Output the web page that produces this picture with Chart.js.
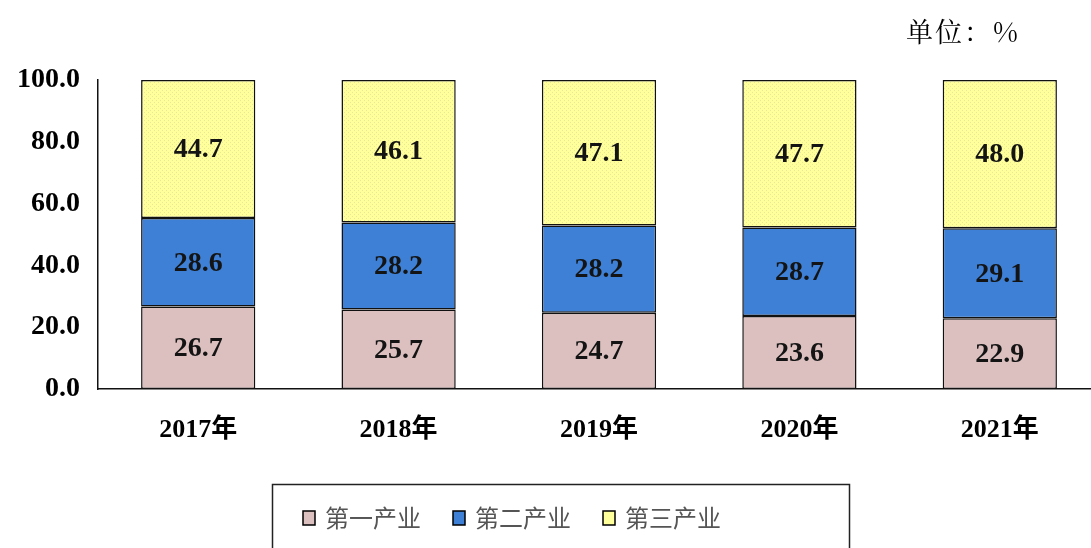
<!DOCTYPE html>
<html>
<head>
<meta charset="utf-8">
<script src="https://cdn.jsdelivr.net/npm/chart.js@4.4.1/dist/chart.umd.min.js"></script>
<style>
  html, body { margin: 0; padding: 0; background: #fff; overflow: hidden; }
  #wrap { position: relative; width: 1091px; height: 548px; overflow: hidden; }
  #box { position: absolute; left: 0; top: 0; width: 1100px; height: 548px; }
  #unit { position: absolute; left: 906px; top: 11px; font: 27px "Noto Serif CJK SC", "Noto Sans CJK SC", serif; letter-spacing: 2px; color: #000; }
</style>
</head>
<body>
<div id="wrap">
  <div id="box"><canvas id="industryChart"></canvas></div>
  <div id="unit">单位：%</div>
</div>
<script>
const years = ['2017年', '2018年', '2019年', '2020年', '2021年'];
const primary = [26.7, 25.7, 24.7, 23.6, 22.9];
const secondary = [28.6, 28.2, 28.2, 28.7, 29.1];
const tertiary = [44.7, 46.1, 47.1, 47.7, 48.0];
const seriesNames = ['第一产业', '第二产业', '第三产业'];
const yTicks = [0, 20, 40, 60, 80, 100];

// light dotted yellow fill like the original
function dotPattern() {
    const c = document.createElement('canvas');
    c.width = 4; c.height = 4;
    const g = c.getContext('2d');
    g.fillStyle = '#ffff9c';
    g.fillRect(0, 0, 4, 4);
    g.fillStyle = '#e8e896';
    g.fillRect(0, 0, 1, 1);
    g.fillRect(2, 2, 1, 1);
    return g.createPattern(c, 'repeat');
}

const serifBold = '"Liberation Serif", "Noto Sans CJK SC", serif';

const valueLabels = {
    id: 'valueLabels',
    afterDatasetsDraw(chart) {
        const ctx = chart.ctx;
        ctx.save();
        ctx.font = 'bold 28px ' + serifBold;
        ctx.fillStyle = '#141414';
        ctx.textAlign = 'center';
        ctx.textBaseline = 'middle';
        chart.data.datasets.forEach((ds, i) => {
            chart.getDatasetMeta(i).data.forEach((bar, j) => {
                const p = bar.getProps(['x', 'y', 'base'], true);
                ctx.fillText(ds.data[j].toFixed(1), p.x, (p.y + p.base) / 2 + 1);
            });
        });
        ctx.restore();
    }
};

// framed legend under the axis
const frameLegend = {
    id: 'frameLegend',
    afterDraw(chart) {
        const ctx = chart.ctx;
        ctx.save();
        ctx.strokeStyle = '#222';
        ctx.lineWidth = 1.5;
        ctx.strokeRect(272.5, 484.5, 577, 80);
        ctx.font = '24px "Noto Sans CJK SC", sans-serif';
        ctx.textBaseline = 'middle';
        const startX = 303, gap = 150, cy = 518;
        chart.data.datasets.forEach((ds, i) => {
            const x = startX + i * gap;
            ctx.fillStyle = ds.legendColor;
            ctx.fillRect(x, cy - 7, 12, 14);
            ctx.strokeStyle = '#000';
            ctx.lineWidth = 1.5;
            ctx.strokeRect(x, cy - 7, 12, 14);
            ctx.fillStyle = '#555';
            ctx.fillText(ds.label, x + 22, cy);
        });
        ctx.restore();
    }
};

const ctx = document.getElementById('industryChart');
new Chart(ctx, {
    type: 'bar',
    data: {
        labels: years,
        datasets: [
            { label: seriesNames[0], data: primary, backgroundColor: '#dcc0bf', legendColor: '#dcc0bf' },
            { label: seriesNames[1], data: secondary, backgroundColor: '#3d80d6', legendColor: '#3d80d6' },
            { label: seriesNames[2], data: tertiary, backgroundColor: dotPattern(), legendColor: '#ffff9c' }
        ].map(ds => ({
            ...ds,
            borderColor: '#111',
            borderWidth: 1.5,
            borderSkipped: false,
            categoryPercentage: 1,
            barPercentage: 0.57
        }))
    },
    options: {
        responsive: true,
        maintainAspectRatio: false,
        animation: false,
        layout: { padding: { top: 80, left: 0, right: 0, bottom: 0 } },
        plugins: {
            legend: { display: false },
            tooltip: { enabled: false }
        },
        scales: {
            x: {
                stacked: true,
                grid: { display: false, drawTicks: false },
                border: { display: true, color: '#111', width: 1.5 },
                ticks: {
                    padding: 26,
                    color: '#000',
                    font: { family: serifBold, size: 26, weight: 'bold' }
                },
                afterFit(scale) { scale.height = 159; }
            },
            y: {
                stacked: true,
                min: 0,
                max: 100,
                afterBuildTicks(scale) { scale.ticks = yTicks.map(v => ({ value: v })); },
                grid: { display: false, drawTicks: false },
                border: { display: true, color: '#111', width: 1.5 },
                ticks: {
                    padding: 18,
                    color: '#000',
                    font: { family: serifBold, size: 28, weight: 'bold' },
                    callback: v => v.toFixed(1)
                },
                afterFit(scale) { scale.width = 98; }
            }
        }
    },
    plugins: [valueLabels, frameLegend]
});
</script>
</body>
</html>
